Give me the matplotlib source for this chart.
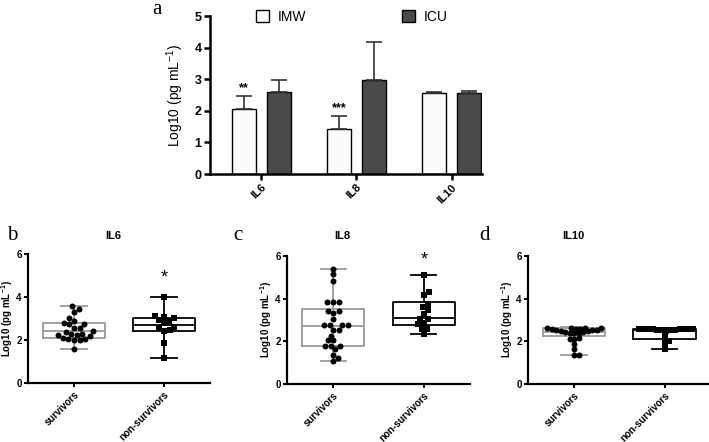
import numpy as np
import matplotlib
matplotlib.use('Agg')
import matplotlib.pyplot as plt
from matplotlib.patches import Patch

plt.rcParams['font.family'] = ['Liberation Sans', 'DejaVu Sans']
plt.rcParams['mathtext.default'] = 'regular'

# ─── Data ─────────────────────────────────────────────────────────────────────

cytokines = ['IL6', 'IL8', 'IL10']
imw_mean = [2.07, 1.42, 2.55]
imw_err = [0.40, 0.41, 0.03]
icu_mean = [2.58, 2.98, 2.55]
icu_err = [0.38, 1.19, 0.08]
bar_stars = ['**', '***', '']

groups = ['survivors', 'non-survivors']

il6_surv = [3.57, 3.42, 3.32, 3.03, 2.89, 2.77, 2.74, 2.74, 2.58, 2.58, 2.42, 2.38,
            2.26, 2.23, 2.20, 2.23, 2.26, 2.03, 2.00, 2.00, 2.03, 2.08, 1.58]
il6_nonsurv = [4.00, 3.11, 3.08, 3.03, 2.92, 2.88, 2.77, 2.62, 2.58, 2.46, 2.43, 1.88, 1.18]

il8_surv = [5.41, 5.14, 4.83, 3.86, 3.86, 3.86, 3.40, 3.40, 3.35, 3.06, 2.75, 2.75, 2.75,
            2.75, 2.53, 2.53, 2.27, 2.04, 2.04, 1.80, 1.80, 1.80, 1.62, 1.38, 1.22, 1.07]
il8_nonsurv = [5.11, 4.31, 4.16, 3.76, 3.62, 3.45, 3.26, 3.06, 3.03, 2.87, 2.79, 2.59, 2.56, 2.35]

il10_surv = [2.37, 2.39, 2.41, 2.43, 2.45, 2.47, 2.49, 2.51, 2.53, 2.55, 2.57, 2.59, 2.60,
             2.61, 2.62, 2.63, 2.64, 2.16, 2.09, 2.09, 1.88, 1.62, 1.38, 1.38]
il10_nonsurv = [2.50, 2.52, 2.53, 2.54, 2.55, 2.56, 2.57, 2.57, 2.58, 2.58, 2.59, 2.60,
                2.60, 2.30, 2.00, 1.90, 1.66]

# box stats: (whislo, q1, med, q3, whishi)
il6_box = [(1.58, 2.08, 2.42, 2.80, 3.57), (1.18, 2.42, 2.69, 3.03, 4.00)]
il8_box = [(1.07, 1.80, 2.71, 3.50, 5.41), (2.35, 2.76, 3.10, 3.84, 5.11)]
il10_box = [(1.38, 2.24, 2.45, 2.64, 2.66), (1.66, 2.09, 2.52, 2.59, 2.62)]


def swarm(vals, diam=4.6, xs=90.0, ys=21.4):
    # simple beeswarm: sort by value, push each point sideways until it fits
    vals = np.asarray(vals)
    offs = np.zeros(len(vals))
    placed = []
    cands = [0.0]
    for k in range(1, 400):
        cands += [k * 0.25, -k * 0.25]
    for i in np.argsort(vals, kind='stable'):
        y = vals[i] * ys
        for c in cands:
            if all((c - px) ** 2 + (y - py) ** 2 >= diam ** 2 for px, py in placed):
                break
        offs[i] = c / xs
        placed.append((c, y))
    return offs


# ─── Figure ───────────────────────────────────────────────────────────────────

fig = plt.figure(figsize=(7.09, 4.42), dpi=100)

# ─── Panel a: bars ────────────────────────────────────────────────────────────

ax = fig.add_axes([0.2962, 0.6063, 0.3836, 0.3575])
x = np.arange(len(cytokines))
off, w = 0.185, 0.25
ax.bar(x - off, imw_mean, w, color='#fcfcfc', edgecolor='black', linewidth=1.0,
       yerr=[np.zeros(3), imw_err], capsize=6,
       error_kw=dict(ecolor='#333333', elinewidth=1.2, capthick=1.2))
ax.bar(x + off, icu_mean, w, color='#4a4a4a', edgecolor='black', linewidth=1.0,
       yerr=[np.zeros(3), icu_err], capsize=6,
       error_kw=dict(ecolor='#333333', elinewidth=1.2, capthick=1.2))
for xi, m, e, s in zip(x, imw_mean, imw_err, bar_stars):
    if s:
        ax.text(xi - off, m + e + 0.05, s, ha='center', va='bottom', fontsize=9,
                fontweight='bold')

ax.set_xlim(-0.54, 2.32)
ax.set_ylim(0, 5)
ax.set_yticks(range(6))
ax.set_xticks(x)
ax.set_xticklabels(cytokines, rotation=45, ha='right', va='top',
                   rotation_mode='anchor', fontsize=8, fontweight='bold')
for lab in ax.get_yticklabels():
    lab.set_fontweight('bold')
    lab.set_fontsize(9)
ax.set_ylabel('Log10 (pg mL$^{-1}$)', fontsize=10, labelpad=6)
for sp in ['top', 'right']:
    ax.spines[sp].set_visible(False)
for sp in ['left', 'bottom']:
    ax.spines[sp].set_linewidth(1.8)
ax.tick_params(width=1.8, length=4, pad=2)

handles = [Patch(facecolor='white', edgecolor='black', label='IMW'),
           Patch(facecolor='#4a4a4a', edgecolor='black', label='ICU')]
ax.legend(handles=handles, ncol=2, frameon=False, loc='center left',
          bbox_to_anchor=(0.17, 0.995), borderpad=0, borderaxespad=0,
          handlelength=0.95, handleheight=0.95, handletextpad=0.6,
          columnspacing=6.9, prop=dict(size=10))
fig.text(157 / 709, 1 - 10 / 442, 'a', fontsize=15, family='Liberation Serif',
         ha='center', va='center')

# ─── Panels b-d: box + scatter ────────────────────────────────────────────────

panels = [
    ('b', 'IL6', [0.0395, 0.1335, 0.2567, 0.2919], il6_surv, il6_nonsurv, il6_box,
     4.9, 12, 113, 5.6),
    ('c', 'IL8', [0.4048, 0.1312, 0.2581, 0.2896], il8_surv, il8_nonsurv, il8_box,
     5.83, 238, 342, 5.6),
    ('d', 'IL10', [0.7447, 0.1312, 0.2580, 0.2896], il10_surv, il10_nonsurv, il10_box,
     None, 484, 573, 4.5),
]

for letter, title, pos, surv, nons, boxes, star_y, let_x, tit_x, diam in panels:
    ax = fig.add_axes(pos)
    stats = []
    for lo, q1, med, q3, hi in boxes:
        stats.append(dict(whislo=lo, q1=q1, med=med, q3=q3, whishi=hi, fliers=[]))
    for i, col in enumerate(['#9a9a9a', 'black']):
        ax.bxp([stats[i]], positions=[i], widths=0.69, capwidths=0.28,
               showfliers=False,
               boxprops=dict(color=col, linewidth=1.3),
               whiskerprops=dict(color=col, linewidth=1.3),
               capprops=dict(color=col, linewidth=1.3),
               medianprops=dict(color=col, linewidth=1.3))
    ax.plot(0 + swarm(surv, diam), surv, 'o', color='black', markersize=4.3,
            markeredgewidth=0, zorder=5)
    ax.plot(1 + swarm(nons, diam), nons, 's', color='black', markersize=4.0,
            markeredgewidth=0, zorder=5)
    if star_y is not None:
        ax.text(1, star_y, '*', ha='center', va='center', fontsize=13)

    ax.set_xlim(-0.51, 1.51)
    ax.set_ylim(0, 6)
    ax.set_yticks([0, 2, 4, 6])
    ax.set_xticks([0, 1])
    ax.set_xticklabels(groups, rotation=45, ha='right', va='top',
                       rotation_mode='anchor', fontsize=7, fontweight='bold')
    for lab in ax.get_yticklabels():
        lab.set_fontweight('bold')
        lab.set_fontsize(7)
    ax.set_ylabel('Log10 (pg mL$^{-1}$)', fontsize=7, fontweight='bold')
    ax.yaxis.set_label_coords(-13 / (pos[2] * 709), 0.5)
    for sp in ['top', 'right']:
        ax.spines[sp].set_visible(False)
    for sp in ['left', 'bottom']:
        ax.spines[sp].set_linewidth(1.6)
    ax.tick_params(width=1.4, length=3, pad=1.5)

    fig.text(let_x / 709, 1 - 236 / 442, letter, fontsize=15,
             family='Liberation Serif', ha='center', va='center')
    fig.text(tit_x / 709, 1 - 236 / 442, title, fontsize=8,
             fontweight='bold', ha='center', va='center')

fig.savefig('out.png', dpi=100)
